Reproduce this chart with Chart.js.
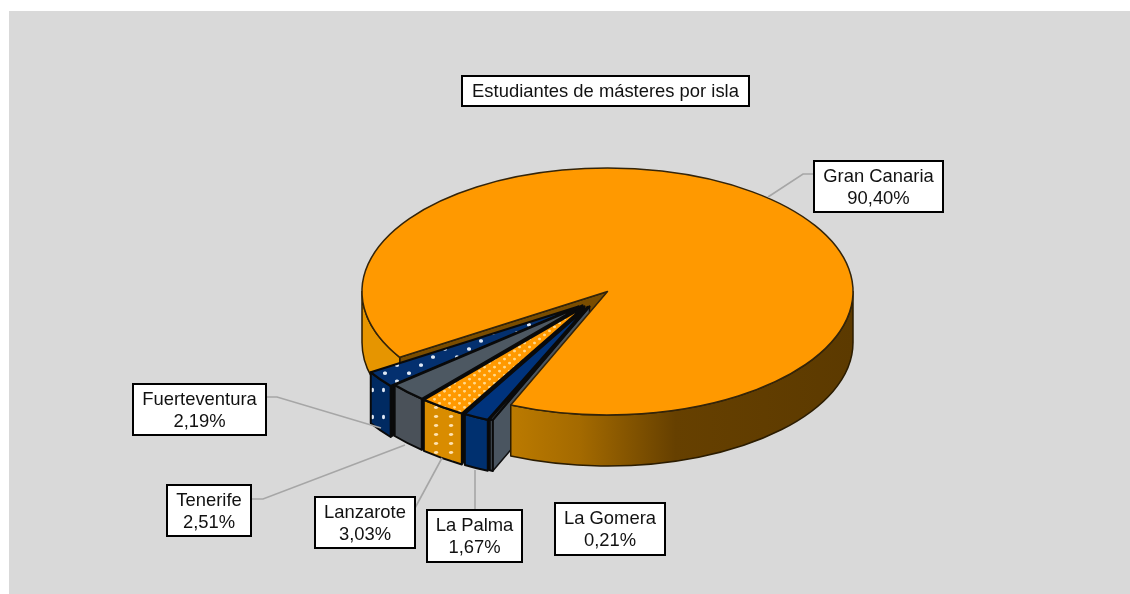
<!DOCTYPE html>
<html lang="es">
<head>
  <meta charset="UTF-8" />
  <title>Estudiantes de másteres por isla</title>
  <script src="https://cdn.jsdelivr.net/npm/chart.js"></script>
  <style>
    html, body { margin: 0; padding: 0; background: #fff; }
    canvas { display: block; }
  </style>
</head>
<body>
  <canvas id="pie" width="1130" height="594"></canvas>

  <script>
    const chartTitle = 'Estudiantes de másteres por isla';
    const islands = ['Gran Canaria', 'La Gomera', 'La Palma', 'Lanzarote', 'Tenerife', 'Fuerteventura'];
    const shares = [90.40, 0.21, 1.67, 3.03, 2.51, 2.19];

    // look of the fake 3d pie
    const squash = 0.503;
    const depth = 51;
    const radius = 245.5;
    const firstSliceAngle = 237.8;
    // how far every slice is pulled out, in screen pixels
    const pull = [[0, 0], [-18, 15], [-20, 15.5], [-23, 15], [-25, 14], [-29, 15]];
    const wallColors = ['#b87700', '#4a5560', '#00306f', '#d98c00', '#4a5159', '#002a62'];
    // label boxes: x, y, w, h
    const boxes = [[814, 161, 129, 51], [555, 503, 110, 52], [427, 510, 95, 52], [315, 497, 100, 51], [167, 485, 84, 51], [133, 384, 133, 51]];
    const leaders = [
      [[768, 197], [803, 174], [814, 174]],
      [],
      [[475, 510], [475, 470]],
      [[415, 508], [442, 458]],
      [[252, 499], [263, 499], [405, 445]],
      [[267, 397], [277, 397], [381, 428]]
    ];

    function dots(base, dot, w, h, rx, ry, points) {
      const c = document.createElement('canvas');
      c.width = w;
      c.height = h;
      const g = c.getContext('2d');
      g.fillStyle = base;
      g.fillRect(0, 0, w, h);
      g.fillStyle = dot;
      points.forEach(p => {
        g.beginPath();
        g.ellipse(p[0], p[1], rx, ry, 0, 0, Math.PI * 2);
        g.fill();
      });
      return g.createPattern(c, 'repeat');
    }

    const navyDots = dots('#04306f', '#dfe8f5', 24, 32, 2, 3.6, [[6, 8], [18, 24]]);
    const orangeDots = dots('#ff9900', '#ffd98c', 10, 16, 1.5, 2.8, [[2.5, 4], [7.5, 12]]);
    const navyWallDots = dots(wallColors[5], '#dfe8f5', 11, 27, 1.5, 2.2, [[9.5, 12]]);
    const orangeWallDots = dots(wallColors[3], '#ffe2b0', 15, 9, 2.2, 1.4, [[1, 2.5], [16, 2.5]]);

    const topColors = ['#ff9900', '#4a5560', '#00337c', orangeDots, '#4d5862', navyDots];

    function sectorPath(ctx, x, y, a0, a1) {
      ctx.beginPath();
      ctx.moveTo(x, y);
      ctx.ellipse(x, y, radius, radius * squash, 0, a0, a1);
      ctx.closePath();
    }

    // outer wall between two angles, only call it for the front half
    function rimPath(ctx, x, y, a0, a1) {
      ctx.beginPath();
      ctx.ellipse(x, y, radius, radius * squash, 0, a0, a1);
      ctx.ellipse(x, y + depth, radius, radius * squash, 0, a1, a0, true);
      ctx.closePath();
    }

    function radialWall(ctx, x, y, a) {
      const ox = x + radius * Math.cos(a);
      const oy = y + radius * squash * Math.sin(a);
      ctx.beginPath();
      ctx.moveTo(x, y);
      ctx.lineTo(ox, oy);
      ctx.lineTo(ox, oy + depth);
      ctx.lineTo(x, y + depth);
      ctx.closePath();
    }

    function drawTop(ctx, arc, dx, dy) {
      ctx.save();
      ctx.translate(arc.x + dx, arc.y + dy);
      ctx.scale(1, squash);
      ctx.translate(-arc.x, -arc.y);
      arc.draw(ctx);
      ctx.restore();
    }

    function fillStroke(ctx, fill, stroke, width) {
      ctx.fillStyle = fill;
      ctx.fill();
      ctx.strokeStyle = stroke;
      ctx.lineWidth = width;
      ctx.lineJoin = 'round';
      ctx.stroke();
    }

    const pie3d = {
      id: 'pie3d',
      beforeDraw(chart) {
        const ctx = chart.ctx;
        ctx.save();
        ctx.fillStyle = '#fff';
        ctx.fillRect(0, 0, chart.width, chart.height);
        ctx.fillStyle = '#d9d9d9';
        ctx.fillRect(9, 11, chart.width - 9, chart.height - 11);
        ctx.restore();
      },
      beforeDatasetsDraw(chart) {
        const ctx = chart.ctx;
        const arcs = chart.getDatasetMeta(0).data;
        const main = arcs[0];
        const x = main.x, y = main.y;
        const TAU = Math.PI * 2;

        ctx.save();
        // wall of the notch left by the pulled slices, and the left rim
        const a0 = main.startAngle;
        const a1 = main.endAngle;
        radialWall(ctx, x, y, a0);
        fillStroke(ctx, '#7a4d00', '#2b1c00', 1.5);
        rimPath(ctx, x, y, a0, Math.PI);
        fillStroke(ctx, '#e69500', '#2b1c00', 1.5);

        // side walls of the pulled slices, all behind the big slice top.
        // only the La Gomera one shows, the rest are the black gaps
        for (let i = arcs.length - 1; i >= 1; i--) {
          radialWall(ctx, x + pull[i][0], y + pull[i][1], arcs[i].startAngle);
          if (i === 1) fillStroke(ctx, wallColors[1], '#111', 1.5);
          else fillStroke(ctx, '#0a0a0a', '#0a0a0a', 1);
        }

        // big slice: front rim, top
        const grad = ctx.createLinearGradient(x - 96, 0, x + radius, 0);
        grad.addColorStop(0, '#bb7a00');
        grad.addColorStop(0.2, '#a46a00');
        grad.addColorStop(0.48, '#664000');
        grad.addColorStop(1, '#5c3a00');
        rimPath(ctx, x, y, TAU, a1);
        fillStroke(ctx, grad, '#2b1c00', 1.5);
        drawTop(ctx, main, 0, 0);
        sectorPath(ctx, x, y, a0, a1);
        ctx.strokeStyle = '#33240a';
        ctx.lineWidth = 1.5;
        ctx.stroke();

        // pulled slices from left to right
        const rimFill = [null, wallColors[1], wallColors[2], orangeWallDots, wallColors[4], navyWallDots];
        for (let i = arcs.length - 1; i >= 1; i--) {
          const arc = arcs[i];
          const sx = x + pull[i][0], sy = y + pull[i][1];
          rimPath(ctx, sx, sy, arc.startAngle, arc.endAngle);
          fillStroke(ctx, rimFill[i], '#0a0a0a', 2);
          drawTop(ctx, arc, pull[i][0], pull[i][1]);
          sectorPath(ctx, sx, sy, arc.startAngle, arc.endAngle);
          ctx.strokeStyle = '#0a0a0a';
          ctx.lineWidth = 2.2;
          ctx.stroke();
        }
        ctx.restore();
        return false;
      },
      afterDraw(chart) {
        const ctx = chart.ctx;
        ctx.save();
        ctx.strokeStyle = '#a6a6a6';
        ctx.lineWidth = 1.6;
        leaders.forEach(line => {
          if (!line.length) return;
          ctx.beginPath();
          line.forEach((p, i) => i ? ctx.lineTo(p[0], p[1]) : ctx.moveTo(p[0], p[1]));
          ctx.stroke();
        });

        ctx.textAlign = 'center';
        ctx.textBaseline = 'middle';
        ctx.font = '18.4px "Liberation Sans", Arial, sans-serif';
        const box = (b) => {
          ctx.fillStyle = '#fff';
          ctx.fillRect(b[0], b[1], b[2], b[3]);
          ctx.strokeStyle = '#000';
          ctx.lineWidth = 2;
          ctx.strokeRect(b[0], b[1], b[2], b[3]);
          ctx.fillStyle = '#111';
        };
        box([462, 76, 287, 30]);
        ctx.fillText(chartTitle, 605.5, 91.5);
        islands.forEach((name, i) => {
          const b = boxes[i];
          box(b);
          const mid = b[0] + b[2] / 2;
          ctx.fillText(name, mid, b[1] + 15.5);
          ctx.fillText(shares[i].toFixed(2).replace('.', ',') + '%', mid, b[1] + 37.5);
        });
        ctx.restore();
      }
    };

    new Chart(document.getElementById('pie'), {
      type: 'pie',
      data: {
        labels: islands,
        datasets: [{
          data: shares,
          backgroundColor: topColors,
          borderWidth: 0,
          radius: radius
        }]
      },
      options: {
        responsive: false,
        animation: false,
        rotation: firstSliceAngle,
        layout: { padding: { left: 85, bottom: 11 } },
        plugins: { legend: { display: false }, tooltip: { enabled: false } }
      },
      plugins: [pie3d]
    });
  </script>
</body>
</html>
